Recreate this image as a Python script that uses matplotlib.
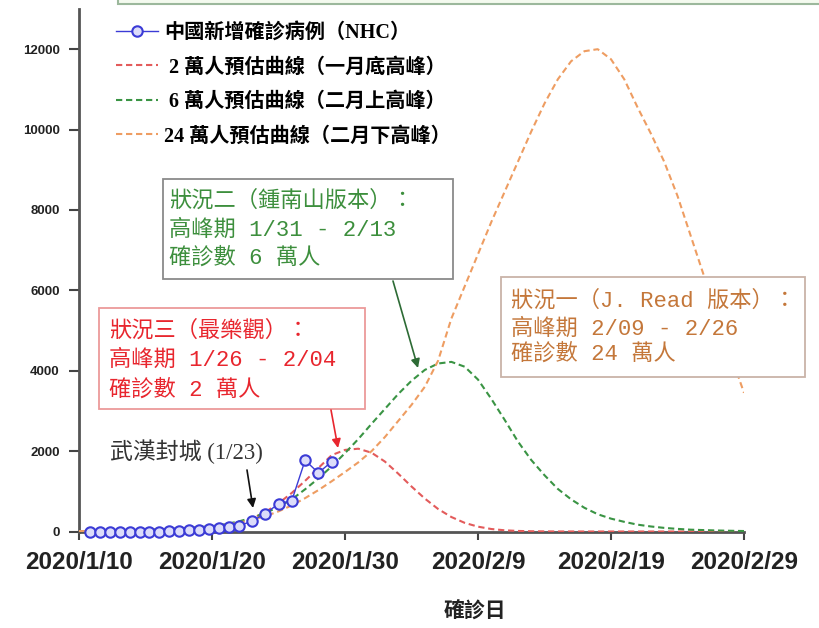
import datetime as dt
import numpy as np
import matplotlib
matplotlib.use("Agg")
import matplotlib.pyplot as plt
import matplotlib.dates as mdates
from matplotlib.patches import Rectangle
from matplotlib.lines import Line2D

# ---------------- data ----------------
start_date = dt.date(2020, 1, 10)
curve_days = list(range(51))  # 2020/1/10 .. 2020/2/29

red_vals = [1, 2, 3, 5, 7, 10, 14, 20, 28, 42,
            70, 120, 200, 320, 480, 700, 960, 1260, 1580, 1900,
            2030, 2060, 1960, 1740, 1440, 1120, 820, 560, 360, 215,
            120, 62, 30, 14, 6, 3, 1, 1, 0, 0,
            0, 0, 0, 0, 0, 0, 0, 0, 0, 0,
            0]
green_vals = [10, 14, 19, 26, 34, 44, 56, 70, 87, 107,
              130, 180, 250, 340, 460, 610, 800, 1050, 1320, 1620,
              1950, 2300, 2680, 3050, 3420, 3750, 4020, 4180, 4220, 4100,
              3780, 3300, 2780, 2240, 1780, 1400, 1060, 800, 590, 430,
              320, 240, 170, 125, 90, 65, 45, 35, 25, 18,
              12]
orange_vals = [10, 13, 17, 22, 29, 37, 47, 60, 78, 100,
               130, 170, 220, 290, 380, 500, 650, 830, 1030, 1250,
               1480, 1720, 2000, 2350, 2750, 3150, 3600, 4250, 5300, 6100,
               6900, 7700, 8450, 9200, 9950, 10650, 11250, 11700, 11950, 12000,
               11750, 11250, 10550, 9900, 9200, 8350, 7350, 6350, 5350, 4400,
               3450]

nhc_days = [0.8, 1.55, 2.3, 3.05, 3.8, 4.55, 5.3, 6.05, 6.8, 7.55, 8.3, 9.05,
            9.8, 10.55, 11.3, 12.05, 13, 14, 15, 16, 17, 18, 19]
nhc_vals = [0, 0, 0, 0, 0, 0, 0, 0, 5, 15, 25, 40,
            60, 80, 110, 140, 259, 444, 688, 769, 1771, 1459, 1737]

xtick_days = [0, 10, 20, 30, 40, 50]
xtick_labels = ["2020/1/10", "2020/1/20", "2020/1/30", "2020/2/9", "2020/2/19", "2020/2/29"]
ytick_vals = [0, 2000, 4000, 6000, 8000, 10000, 12000]

legend_labels = ["中國新增確診病例（NHC）",
                 " 2 萬人預估曲線（一月底高峰）",
                 " 6 萬人預估曲線（二月上高峰）",
                 "24 萬人預估曲線（二月下高峰）"]

note_red = ["狀況三（最樂觀）：", "高峰期 1/26 - 2/04", "確診數 2 萬人"]
note_green = ["狀況二（鍾南山版本）：", "高峰期 1/31 - 2/13", "確診數 6 萬人"]
note_orange = ["狀況一（J. Read 版本）：", "高峰期 2/09 - 2/26", "確診數 24 萬人"]
note_lockdown = "武漢封城 (1/23)"
x_label = "確診日"

# ---------------- style ----------------
C_RED = "#e35b5b"
C_GREEN = "#3a9444"
C_ORANGE = "#ee9d62"
C_BLUE = "#3b3bd6"
CJK = "Noto Sans CJK TC"
MONO_CJK = ["Liberation Mono", CJK]
SERIF_CJK = ["Liberation Serif", CJK]

base = mdates.date2num(start_date)
W, H = 819, 628
L_PX, R_PX, B_PX, T_PX = 79, 744, 531.5, 9

fig = plt.figure(figsize=(W / 100, H / 100), dpi=100)
ax = fig.add_axes([L_PX / W, 1 - B_PX / H, (R_PX - L_PX) / W, (B_PX - T_PX) / H])


def af(x, y):
    """pixel -> axes fraction"""
    return ((x - L_PX) / (R_PX - L_PX), (B_PX - y) / (B_PX - T_PX))


xc = base + np.array(curve_days)
dash = (0, (3.0, 1.8))
l_red, = ax.plot(xc, red_vals, color=C_RED, ls=dash, lw=1.5, zorder=3)
l_green, = ax.plot(xc, green_vals, color=C_GREEN, ls=dash, lw=1.5, zorder=3)
l_orange, = ax.plot(xc, orange_vals, color=C_ORANGE, ls=dash, lw=1.5, zorder=3)
l_blue, = ax.plot(base + np.array(nhc_days), nhc_vals, color=C_BLUE, lw=1.0,
                  marker="o", ms=7.5, mfc="#dcdcfa", mec=C_BLUE, mew=1.5,
                  zorder=5, clip_on=False)

ax.set_xlim(base + 0, base + 50)
ax.set_ylim(0, 13000)
ax.set_xticks(base + np.array(xtick_days))
ax.set_xticklabels(xtick_labels, fontsize=17.5, fontweight="bold", family="Liberation Sans",
                   color="#222222")
ax.set_yticks(ytick_vals)
ax.set_yticklabels([str(v) for v in ytick_vals], fontsize=9.5, fontweight="bold",
                   family="Liberation Sans", color="#222222")
ax.tick_params(axis="x", length=6, width=1.5, pad=8, color="#444444")
ax.tick_params(axis="y", length=7, width=1.5, pad=7, color="#444444")
for s in ("top", "right"):
    ax.spines[s].set_visible(False)
for s in ("left", "bottom"):
    ax.spines[s].set_color("#555555")
    ax.spines[s].set_linewidth(2)

# legend
handles = [Line2D([], [], color=C_BLUE, lw=1.0, marker="o", ms=7.5, mfc="#dcdcfa",
                  mec=C_BLUE, mew=1.5),
           Line2D([], [], color=C_RED, ls=dash, lw=1.5),
           Line2D([], [], color=C_GREEN, ls=dash, lw=1.5),
           Line2D([], [], color=C_ORANGE, ls=dash, lw=1.5)]
leg = ax.legend(handles, legend_labels, loc="upper left",
                bbox_to_anchor=af(116, 23), frameon=False,
                prop={"family": SERIF_CJK, "size": 14.5, "weight": "bold"},
                handlelength=2.1, handletextpad=0.3, labelspacing=0.72,
                borderpad=0, borderaxespad=0)


def note_box(x0, y0, x1, y1, ec, lines, tx, ty_list, color, size=16):
    x_a, y_a = af(x0, y1)
    x_b, y_b = af(x1, y0)
    ax.add_patch(Rectangle((x_a, y_a), x_b - x_a, y_b - y_a, transform=ax.transAxes,
                           fc="white", ec=ec, lw=1.3, zorder=6, clip_on=False))
    for line, ty in zip(lines, ty_list):
        px, py = af(tx, ty)
        ax.text(px, py, line, transform=ax.transAxes, ha="left", va="center",
                color=color, fontsize=size, family=MONO_CJK, zorder=7)


note_box(99, 308, 365, 409, "#ec9a9a", note_red, 109, [331, 360, 390], "#e8262e")
note_box(163, 179, 453, 279, "#8a8a8a", note_green, 169, [201, 230, 258], "#3d8f3d")
note_box(501, 277, 805, 377, "#c9b3a8", note_orange, 511, [301, 329, 354], "#c4773a")

# arrows
def arrow(x0, y0, x1, y1, color):
    ax.annotate("", xy=af(x1, y1), xycoords="axes fraction",
                xytext=af(x0, y0), textcoords="axes fraction",
                arrowprops=dict(arrowstyle="-|>", color=color, lw=1.2,
                                mutation_scale=13, shrinkA=0, shrinkB=0),
                zorder=8)


arrow(331, 410, 338, 448, "#e8262e")
arrow(393, 281, 418, 368, "#2d6b35")
arrow(247, 470, 253, 508, "#111111")

px, py = af(110, 452)
ax.text(px, py, note_lockdown, transform=ax.transAxes, ha="left", va="center",
        fontsize=16.5, family=SERIF_CJK, color="#333333", zorder=7)

# x label
fig.text(475 / W, 1 - 610 / H, x_label, ha="center", va="center", fontsize=15,
         fontweight="bold", family=CJK, color="#222222")

# partially visible box at the top
fig.patches.append(Rectangle((118 / W, 1 - 4 / H), 1.0, 0.2, transform=fig.transFigure,
                             fc="#f4faef", ec="#9cb89c", lw=1.5, figure=fig))

fig.savefig("out.png", dpi=100)
